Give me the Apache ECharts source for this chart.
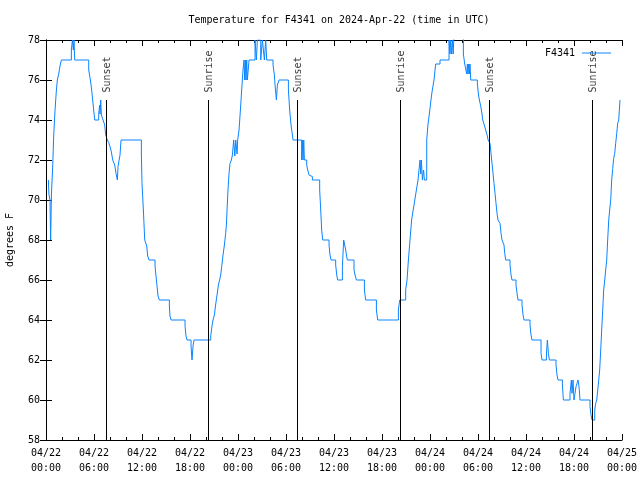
<!DOCTYPE html>
<html><head><meta charset="utf-8">
<script src="https://cdn.jsdelivr.net/npm/echarts@6/dist/echarts.min.js"></script>
<style>html,body{margin:0;padding:0;background:#fff}#c{width:640px;height:480px}</style>
</head><body><div id="c"></div>
<script>
const titleText = 'Temperature for F4341 on 2024-Apr-22 (time in UTC)';
const seriesName = 'F4341';
const yAxisName = 'degrees F';
// x values: hours since 2024-04-22 00:00 UTC
const tickDates = ['04/22','04/22','04/22','04/22','04/23','04/23','04/23','04/23','04/24','04/24','04/24','04/24','04/25'];
const tickTimes = ['00:00','06:00','12:00','18:00','00:00','06:00','12:00','18:00','00:00','06:00','12:00','18:00','00:00'];

// change points: at hours[i] the temperature becomes tempF[i]
const hours = [
 0.30,0.36,0.50,0.58,0.68,0.84,0.96,1.13,1.30,1.42,1.59,1.75,1.92,3.17,3.30,3.42,3.50,3.59,
 5.34,5.55,5.71,5.96,6.09,6.59,6.70,6.76,6.84,6.92,7.13,7.34,7.46,7.67,7.84,8.00,8.17,8.34,8.59,8.75,8.92,
 9.00,9.25,9.38,11.92,12.00,12.17,12.34,12.59,12.71,12.88,13.63,13.75,13.88,14.00,14.17,15.42,15.50,15.63,
 17.38,17.50,17.63,18.13,18.25,18.38,18.50,20.59,20.75,20.88,21.05,21.20,21.38,21.55,21.67,21.84,21.96,
 22.13,22.30,22.46,22.55,22.63,22.75,22.88,23.00,23.17,23.30,23.46,23.60,23.72,23.88,23.96,24.13,24.30,24.46,24.63,
 24.75,24.84,24.92,25.00,25.09,25.17,25.38,26.13,26.30,26.42,26.84,27.05,27.30,27.46,27.59,28.38,28.55,28.63,
 28.80,28.92,29.13,30.30,30.46,30.63,30.80,30.88,31.96,32.05,32.13,32.22,32.30,32.59,32.71,32.88,33.09,33.30,
 34.21,34.34,34.46,34.59,35.38,35.50,35.63,36.21,36.34,36.46,37.05,37.21,37.46,37.55,37.67,38.50,38.63,38.80,
 39.80,39.96,41.30,41.46,44.05,44.21,44.96,45.13,45.30,45.50,45.70,45.90,46.10,46.30,46.50,46.75,46.84,46.92,
 47.05,47.20,47.30,47.59,47.75,47.92,48.09,48.25,48.50,48.71,49.25,50.38,50.50,50.59,50.70,50.80,50.90,51.00,
 52.17,52.34,52.59,52.67,52.75,52.84,52.92,53.00,53.09,53.92,54.05,54.17,54.34,54.50,54.59,54.75,54.96,55.17,55.26,
 55.50,55.63,55.75,55.88,56.00,56.13,56.25,56.38,56.50,56.75,56.88,57.00,57.25,57.34,57.46,58.00,58.13,58.25,
 58.75,58.88,59.00,59.50,59.63,59.75,60.50,60.63,60.75,61.88,62.00,62.55,62.67,62.80,62.92,63.75,63.88,64.00,
 64.55,64.67,65.50,65.67,65.75,65.88,66.00,66.13,66.25,66.38,66.50,66.63,66.75,68.00,68.13,68.25,68.59,68.71,68.84,
 69.09,69.21,69.34,69.46,69.59,69.71,69.84,69.96,70.09,70.21,70.34,70.46,70.59,70.71,70.84,70.96,71.09,71.21,71.34,71.46,71.59,71.75
];
const tempF = [
 71.0,70.3,70.0,68.0,70.3,71.7,73.2,74.5,75.5,76.0,76.3,76.7,77.0,77.5,78.0,77.5,78.0,77.0,
 76.5,76.0,75.5,74.5,74.0,74.3,74.75,74.3,75.0,74.25,74.0,73.75,73.25,73.0,72.87,72.67,72.4,72.0,71.75,71.33,71.0,
 71.67,72.25,73.0,72.25,70.83,69.5,68.0,67.7,67.2,67.0,66.7,66.2,65.7,65.2,65.0,64.7,64.2,64.0,
 63.7,63.2,63.0,62.7,62.0,62.7,63.0,63.2,63.7,64.0,64.25,64.75,65.25,65.75,65.95,66.25,66.67,
 67.25,67.75,68.33,68.75,69.5,70.5,71.33,71.83,72.0,72.25,73.0,72.2,73.0,72.3,73.0,73.5,74.5,75.5,76.5,
 77.0,76.0,77.0,76.0,77.0,76.0,77.0,78.0,77.0,78.0,77.0,78.0,77.0,78.0,77.0,76.75,76.25,75.75,
 75.0,75.75,76.0,75.5,74.5,73.75,73.25,73.0,72.0,73.0,72.0,73.0,72.0,71.75,71.5,71.25,71.17,71.0,
 70.5,69.5,68.5,68.0,67.75,67.25,67.0,66.75,66.25,66.0,66.67,68.0,67.5,67.25,67.0,66.5,66.25,66.0,
 65.5,65.0,64.5,64.0,64.5,65.0,65.5,66.0,67.0,68.0,69.0,69.5,70.0,70.5,71.0,72.0,71.3,72.0,
 71.0,71.5,71.0,73.0,73.8,74.3,74.9,75.4,76.0,76.8,77.0,78.0,77.3,78.0,77.3,78.0,77.3,78.3,
 77.3,76.8,76.3,76.8,76.3,76.8,76.3,76.8,76.0,75.8,75.3,75.0,74.7,74.3,74.0,73.8,73.5,73.2,73.0,
 72.83,72.33,71.83,71.33,70.83,70.33,69.83,69.33,69.0,68.83,68.33,68.0,67.75,67.33,67.0,66.75,66.25,66.0,
 65.75,65.33,65.0,64.75,64.25,64.0,63.75,63.25,63.0,62.33,62.0,62.25,63.0,62.33,62.0,61.75,61.25,61.0,
 60.75,60.0,60.33,61.0,60.33,61.0,60.0,60.33,60.67,60.83,61.0,60.67,60.0,59.67,59.25,59.0,59.5,59.83,60.0,
 61.0,61.5,62.5,63.5,64.5,65.5,66.0,66.5,67.0,68.0,69.0,69.5,70.0,71.0,71.58,72.08,72.33,72.83,73.33,73.83,74.0,75.0
];

const eventHours = [7.5, 20.25, 31.38, 44.25, 55.38, 68.25];
const eventLabels = ['Sunset','Sunrise','Sunset','Sunrise','Sunset','Sunrise'];
const eventBottom = 58, eventTop = 75;

const FONT = 'DejaVu Sans Mono';
const LINE_COLOR = '#0a84ff';
const chart = echarts.init(document.getElementById('c'), null, {renderer:'canvas'});
const axisCommonX = {
  type:'value', min:0, max:72, interval:6,
  axisLine:{show:true, lineStyle:{color:'#000', width:1}},
  axisTick:{show:true, inside:true, length:6, lineStyle:{color:'#000'}},
  minorTick:{show:true, splitNumber:3, length:3, lineStyle:{color:'#000'}},
  splitLine:{show:false}
};
const axisCommonY = {
  type:'value', min:58, max:78, interval:2,
  axisLine:{show:true, lineStyle:{color:'#000', width:1}},
  axisTick:{show:true, inside:true, length:6, lineStyle:{color:'#000'}},
  splitLine:{show:false}
};
chart.setOption({
  animation:false,
  backgroundColor:'#fff',
  title:{text:titleText, left:334, top:10, textAlign:'center',
    textStyle:{fontFamily:FONT, fontSize:10, fontWeight:'normal', color:'#000'}},
  legend:{data:[seriesName], right:24, top:43, align:'right', icon:'rect', itemWidth:29, itemHeight:1, itemGap:10,
    textStyle:{fontFamily:FONT, fontSize:10, color:'#000', padding:[0,2,0,0]}},
  grid:{left:46, top:40, width:576, height:400, outerBoundsMode:'none', containLabel:false},
  xAxis:[
    Object.assign({}, axisCommonX, {position:'bottom',
      axisLabel:{fontFamily:FONT, fontSize:10, color:'#000', lineHeight:15, margin:6,
        formatter:(v)=>{const i=Math.round(v/6); return tickDates[i]+'\n'+tickTimes[i];}}}),
    Object.assign({}, axisCommonX, {position:'top', axisLabel:{show:false}})
  ],
  yAxis:[
    Object.assign({}, axisCommonY, {position:'left', name:yAxisName, nameLocation:'middle', nameGap:31, nameRotate:90,
      nameTextStyle:{fontFamily:FONT, fontSize:10, color:'#000'},
      axisLabel:{fontFamily:FONT, fontSize:10, color:'#000', margin:6}}),
    Object.assign({}, axisCommonY, {position:'right', axisLabel:{show:false}})
  ],
  series:[
    {name:seriesName, type:'line', step:'end', showSymbol:false, symbol:'none', clip:true,
     data:hours.map((h,i)=>[h,tempF[i]]),
     lineStyle:{color:LINE_COLOR, width:1}, itemStyle:{color:LINE_COLOR},
     markLine:{silent:true, symbol:['none','none'], label:{show:false},
       lineStyle:{color:'#000', width:1, type:'solid'},
       data:eventHours.map(h=>[{coord:[h,eventBottom]},{coord:[h,eventTop]}])}
    },
    {name:'events', type:'scatter', symbolSize:1, itemStyle:{color:'rgba(0,0,0,0)'}, silent:true,
     data:eventHours.map((h,i)=>[h,eventTop,eventLabels[i]]),
     label:{show:true, formatter:(p)=>p.data[2], rotate:90, position:[1.5,-7], align:'left', verticalAlign:'middle',
       fontFamily:FONT, fontSize:10, color:'#000'}
    }
  ]
});
</script></body></html>
